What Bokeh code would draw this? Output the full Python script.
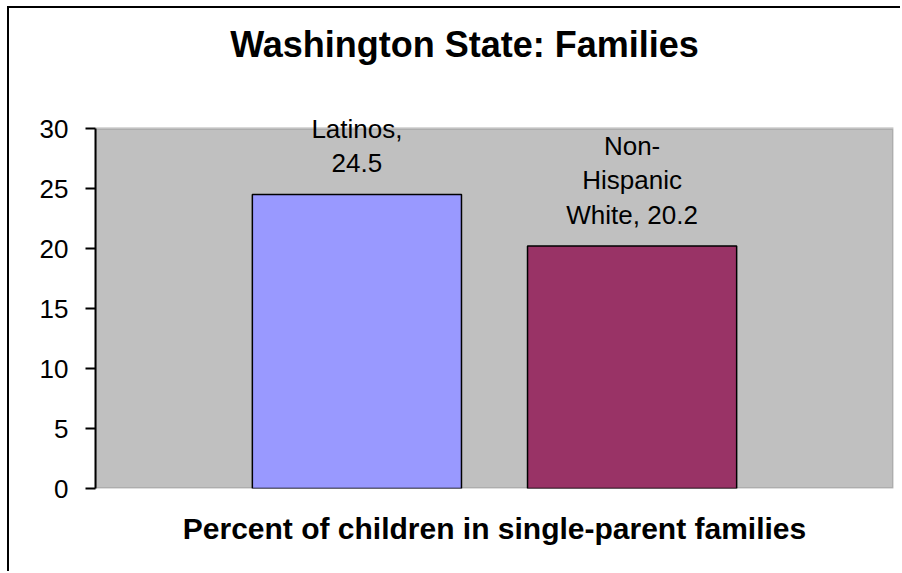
from bokeh.plotting import figure
from bokeh.models import (FactorRange, Title, FixedTicker, ColumnDataSource, Label,
                          BoxAnnotation)
from bokeh.embed import file_html
from bokeh.resources import INLINE

categories = ["Latinos", "Non-Hispanic White"]
values = [24.5, 20.2]
bar_labels = ["Latinos,\n24.5", "Non-\nHispanic\nWhite, 20.2"]
colors = ["#9999FF", "#993366"]
yticks = [0, 5, 10, 15, 20, 25, 30]
y_axis_min, y_axis_max = 0, 30
title_text = "Washington State: Families"
xlabel_text = "Percent of children in single-parent families"

FONT = "Liberation Sans"
PX_PER_UNIT = 12  # vertical scale of the value axis

src = ColumnDataSource(dict(cat=categories, val=values, lab=bar_labels, col=colors))

# frame reaches up to the top of the canvas so the texts above the plot area are not clipped
frame_h = 480
p = figure(
    x_range=FactorRange(*categories, range_padding=0.45, range_padding_units="absolute"),
    y_range=(y_axis_min, frame_h / PX_PER_UNIT),
    width=893, height=565,
    min_border_left=86, min_border_right=9, min_border_top=0, min_border_bottom=85,
    output_backend="svg", toolbar_location=None,
)
p.styles = {"margin-left": "7px", "margin-top": "6px",
            "border-left": "2px solid black", "border-top": "2px solid black"}

p.background_fill_color = "white"
p.border_fill_color = "white"
p.outline_line_color = None
p.xgrid.visible = False
p.ygrid.visible = False

# grey plot area for the value axis span
p.add_layout(BoxAnnotation(bottom=y_axis_min, top=y_axis_max, fill_color="#C0C0C0",
                           fill_alpha=1, line_color="#808080", line_width=3,
                           level="underlay"))

p.vbar(x="cat", top="val", width=0.76, fill_color="col", line_color="black",
       line_width=1.5, source=src)

# Label x uses the categorical range's synthetic coordinate (factor i sits at i + 0.5)
for i, (val, lab) in enumerate(zip(values, bar_labels)):
    p.add_layout(Label(x=i + 0.5, y=val, text=lab, text_align="center",
                       text_baseline="bottom", y_offset=16, text_font=FONT,
                       text_font_size="26px", text_color="black",
                       text_line_height=1.16))

p.xaxis.visible = False
ya = p.yaxis[0]
ya.ticker = FixedTicker(ticks=yticks)
ya.bounds = (y_axis_min, y_axis_max)
ya.minor_tick_line_color = None
ya.major_tick_out = 10
ya.major_tick_in = 0
ya.major_tick_line_width = 2
ya.axis_line_width = 2
ya.axis_line_color = "black"
ya.major_label_text_font = FONT
ya.major_label_text_font_size = "26px"
ya.major_label_text_color = "black"
ya.major_label_standoff = 17

p.title.visible = False
p.add_layout(Label(x=369, y=444, x_units="screen", y_units="screen",
                   text=title_text, text_font=FONT, text_font_size="36px",
                   text_font_style="bold", text_color="black",
                   text_align="center", text_baseline="alphabetic"))

p.add_layout(Title(text=xlabel_text, text_font=FONT, text_font_size="30px",
                   text_color="black", text_font_style="bold", align="center",
                   standoff=42), "below")

open("out.html", "w").write(file_html(p, INLINE))
